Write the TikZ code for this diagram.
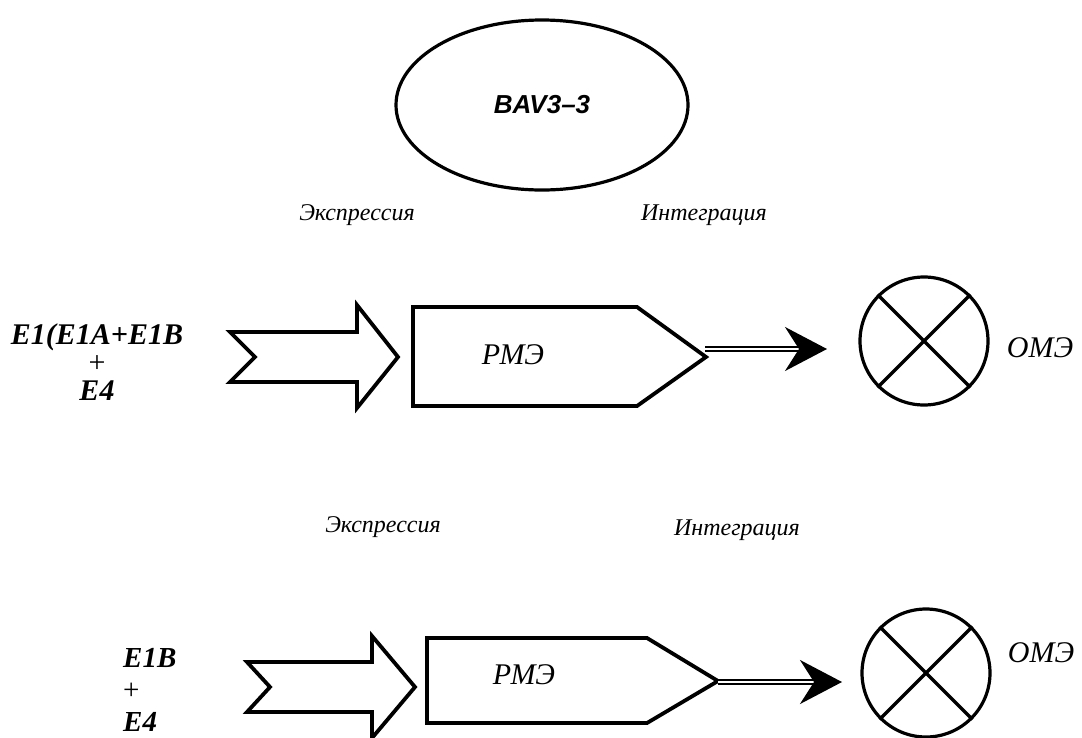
\documentclass[tikz,border=0pt]{standalone}
\usepackage{fontspec}
\setmainfont{Liberation Serif}
\newfontfamily\arialfont{Liberation Sans}
\usetikzlibrary{arrows.meta,shapes.geometric}
\tikzset{
  shp/.style={line width=3.8pt, line join=miter},
  lbl/.style={font=\fontsize{24}{28}\selectfont\itshape},
  nametxt/.style={font=\fontsize{30}{34}\selectfont\itshape},
  intxt/.style={font=\fontsize{30}{28}\selectfont\bfseries\itshape, inner sep=0pt},
  dbl/.style={double, double distance=2pt, line width=2.2pt, -{Stealth[length=42pt,width=44pt,inset=14pt]}},
  omcirc/.style={draw, circle, line width=3.2pt, minimum size=128pt, inner sep=0pt},
  xline/.style={line width=3.5pt}
}
\begin{document}
\begin{tikzpicture}[x=1pt,y=-1pt,line join=round]
	\useasboundingbox (0,0) rectangle (1082,737);
	% top: ellipse
	\node[draw, ellipse, line width=3.2pt, minimum width=292pt, minimum height=170pt,
		font=\arialfont\fontsize{26}{30}\selectfont\bfseries\itshape] (bav) at (542,105) {BAV3–3};
	% labels
	\node[lbl] (exp1) at (357,215) {Экспрессия};
	\node[lbl] (int1) at (704,215) {Интеграция};
	\node[lbl] (exp2) at (383,527) {Экспрессия};
	\node[lbl] (int2) at (737,530) {Интеграция};
	% row 1
	\node[intxt, align=center] (in1) at (97,362) {E1(E1A+E1B\\{\normalfont +}\\E4};
	\draw[shp] (230,332) -- (357,332) -- (357,305) -- (398,357) -- (357,408) -- (357,382) -- (230,382) -- (255,357) -- cycle;
	\draw[shp] (413,307) -- (637,307) -- (706,357) -- (637,406) -- (413,406) -- cycle;
	\node[nametxt] (rme1) at (513,355) {РМЭ};
	\coordinate (out1) at (705,349);
	\coordinate (end1) at (827,349);
	\draw[dbl] (out1) -- (end1);
	\node[omcirc] (om1) at (924,341) {};
	\draw[xline] (om1.45) -- (om1.225) (om1.135) -- (om1.315);
	\node[nametxt] (omt1) at (1040,348) {ОМЭ};
	% row 2
	\node[intxt, align=left, anchor=west, font=\fontsize{29}{32}\selectfont\bfseries\itshape] (in2) at (123,690) {E1B\\{\normalfont +}\\E4};
	\draw[shp] (247,662) -- (372,662) -- (372,636) -- (415,687) -- (372,738) -- (372,712) -- (247,712) -- (270,687) -- cycle;
	\draw[shp] (427,638) -- (647,638) -- (718,681) -- (647,723) -- (427,723) -- cycle;
	\node[nametxt] (rme2) at (524,675) {РМЭ};
	\coordinate (out2) at (718,682);
	\coordinate (end2) at (842,682);
	\draw[dbl] (out2) -- (end2);
	\node[omcirc] (om2) at (926,673) {};
	\draw[xline] (om2.45) -- (om2.225) (om2.135) -- (om2.315);
	\node[nametxt] (omt2) at (1041,653) {ОМЭ};
\end{tikzpicture}
\end{document}
